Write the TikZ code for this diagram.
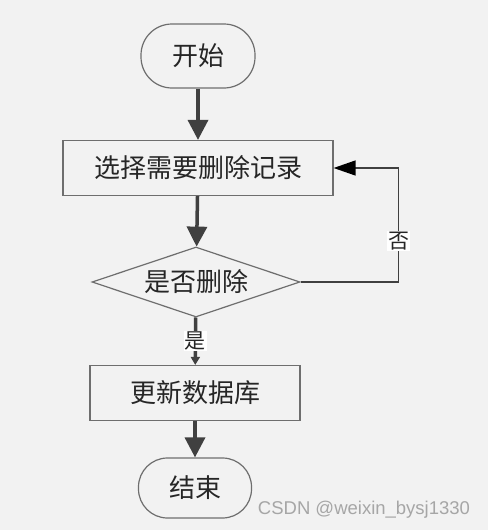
\documentclass[tikz,border=0pt]{standalone}
\usepackage{fontspec}
\setmainfont{Noto Sans CJK SC}
\newfontfamily\markfont{Liberation Sans}
\usetikzlibrary{arrows.meta,shapes.geometric}
\definecolor{bg}{HTML}{F2F2F2}
\definecolor{edgegray}{HTML}{404040}
\definecolor{framegray}{HTML}{6E6E6E}
\begin{document}
\begin{tikzpicture}
  [x=1pt,y=-1pt,every node/.style={draw=framegray,line width=1.2pt,fill=bg,text=black!85,inner sep=0pt,font=\fontsize{26}{26}\selectfont},
   terminal/.style={rectangle,rounded corners=31pt,minimum width=114pt,minimum height=64pt},
   process/.style={rectangle,minimum height=55pt},
   decision/.style={diamond,aspect=3,minimum width=208pt,minimum height=70pt},
   flow/.style={draw=edgegray,line width=3.5pt,-{Triangle[length=20pt,width=20pt]}},
   tag/.style={draw=none,fill=white,inner sep=1pt,font=\fontsize{21}{21}\selectfont}]
\fill[bg] (0,0) rectangle (488,530);
\useasboundingbox (0,0) rectangle (488,530);
  \node[terminal] (start) at (198,56) {开始};
  \node[process,minimum width=270pt] (pick) at (198,168) {选择需要删除记录};
  \node[decision] (ask) at (196,282) {是否删除};
  \node[process,minimum width=210pt] (update) at (195,393) {更新数据库};
  \node[terminal,minimum width=113pt,minimum height=60pt,rounded corners=29pt] (stop) at (195,488) {结束};

  \foreach \from/\to in {start/pick, pick/ask, update/stop}
    \draw[flow] (\from) -- (\to);

  \draw[draw=edgegray,line width=3.5pt,-{Triangle[length=8pt,width=9pt]}] (ask) -- node[tag] {是} (update);
  \draw[draw=edgegray,line width=1.3pt,-{Triangle[length=22pt,width=15pt,black]}] (ask.east) -- ++(98,0) |- node[tag,pos=0.18] {否} (pick.east);

   \node[draw=none, fill=none, text=black!35, font=\markfont\fontsize{18.5}{18.5}\selectfont] (mark) at (364,510) {CSDN @weixin\_bysj1330};
\end{tikzpicture}
\end{document}
